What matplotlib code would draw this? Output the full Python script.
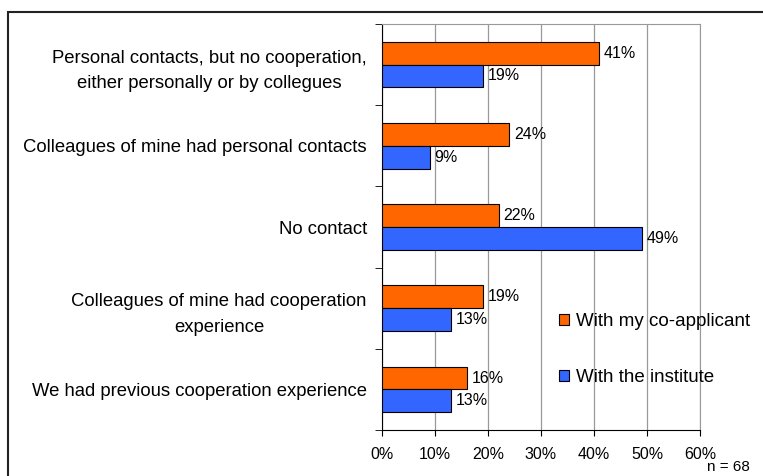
import matplotlib.pyplot as plt
import numpy as np
from matplotlib.patches import Rectangle

plt.rcParams['font.family'] = ['Liberation Sans', 'DejaVu Sans']

categories = [
    "Personal contacts, but no cooperation,\neither personally or by collegues",
    "Colleagues of mine had personal contacts",
    "No contact",
    "Colleagues of mine had cooperation\nexperience",
    "We had previous cooperation experience",
]
co_applicant = [41, 24, 22, 19, 16]
institute = [19, 9, 49, 13, 13]
x_ticks = [0, 10, 20, 30, 40, 50, 60]

orange = '#ff6600'
blue = '#3366ff'

fig = plt.figure(figsize=(7.63, 4.76), dpi=100)
ax = fig.add_axes([0.5007, 0.0966, 0.4167, 0.853])

y = np.arange(len(categories))
h = 0.28
ax.barh(y - h / 2, co_applicant, height=h, color=orange, edgecolor='black',
        linewidth=0.8, label='With my co-applicant', zorder=3)
ax.barh(y + h / 2, institute, height=h, color=blue, edgecolor='black',
        linewidth=0.8, label='With the institute', zorder=3)

for yi, v in zip(y, co_applicant):
    ax.text(v + 0.9, yi - h / 2, f"{v}%", va='center', ha='left', fontsize=11.5)
for yi, v in zip(y, institute):
    ax.text(v + 0.9, yi + h / 2, f"{v}%", va='center', ha='left', fontsize=11.5)

ax.set_xlim(0, 60)
ax.set_ylim(len(categories) - 0.5, -0.5)
ax.set_xticks(x_ticks)
ax.set_xticklabels([f"{t}%" for t in x_ticks], fontsize=11.5)
ax.tick_params(axis='x', length=4, direction='out', pad=8)

# category labels centred between the boundary ticks
ax.set_yticks(y)
ax.set_yticklabels(categories, fontsize=13.3, multialignment='center',
                   linespacing=1.65)
ax.tick_params(axis='y', length=0, pad=11)
ax.set_yticks(np.arange(-0.5, len(categories)), minor=True)
ax.tick_params(axis='y', which='minor', length=5, direction='out')

ax.grid(axis='x', color='#999999', linewidth=0.9, zorder=0)
for side in ['top', 'right']:
    ax.spines[side].set_color('#999999')
for side in ['left', 'bottom']:
    ax.spines[side].set_color('black')

ax.legend(loc='upper left', bbox_to_anchor=(0.505, 0.33), frameon=False,
          fontsize=13.5, handlelength=0.5, handleheight=0.5, labelspacing=2.1,
          handletextpad=0.4)

fig.text(0.983, 0.004, "n = 68", ha='right', va='bottom', fontsize=11)

fig.patches.append(Rectangle((8 / 763, -0.1), 1.2, 0.1 + (476 - 12) / 476,
                             transform=fig.transFigure, fill=False,
                             edgecolor='#222222', linewidth=1.5))

fig.savefig('out.png', dpi=100)
